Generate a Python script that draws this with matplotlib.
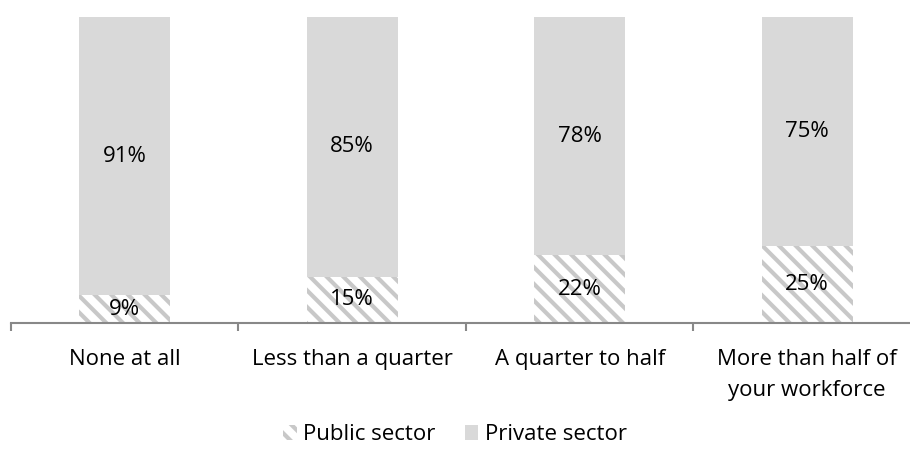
import numpy as np
import matplotlib.pyplot as plt
import matplotlib.patches as mpatches

plt.rcParams['font.family'] = ['Open Sans', 'DejaVu Sans']
plt.rcParams['hatch.linewidth'] = 3.0

categories = ['None at all', 'Less than a quarter', 'A quarter to half',
              'More than half of\nyour workforce']
public = [9, 15, 22, 25]
private = [91, 85, 78, 75]

hatch_col = '#c8c8c8'
fs = 16

fig = plt.figure(figsize=(9.1, 4.54), dpi=100)
ax = fig.add_axes([0.012, 0.289, 1.0, 0.674])

x = np.arange(len(categories))
w = 0.4
ax.bar(x, public, w, color='white', edgecolor=hatch_col, linewidth=0, hatch='\\\\',
       label='Public sector')
ax.bar(x, private, w, bottom=public, color='#d9d9d9', edgecolor='none', label='Private sector')

for i in range(len(categories)):
    ax.text(x[i], public[i] / 2, f'{public[i]}%', ha='center', va='center', fontsize=fs)
    ax.text(x[i], public[i] + private[i] / 2, f'{private[i]}%', ha='center', va='center', fontsize=fs)

ax.set_xlim(-0.5, 3.5)
ax.set_ylim(0, 100)
for s in ['top', 'right', 'left']:
    ax.spines[s].set_visible(False)
ax.spines['bottom'].set_color('#888888')
ax.spines['bottom'].set_linewidth(1.5)
ax.set_yticks([])
ax.set_xticks(np.arange(-0.5, 4, 1), minor=True)
ax.set_xticks(x)
ax.set_xticklabels(categories, fontsize=fs, linespacing=1.6)
ax.tick_params(axis='x', which='major', length=0, pad=19)
ax.tick_params(axis='x', which='minor', length=6, color='#888888', width=1.5)

handles = [mpatches.Patch(facecolor='white', hatch='\\\\', edgecolor=hatch_col, linewidth=0,
                          label='Public sector'),
           mpatches.Patch(facecolor='#d9d9d9', edgecolor='none', label='Private sector')]
fig.legend(handles=handles, loc='lower center', bbox_to_anchor=(0.5, -0.025), ncol=2,
           frameon=False, fontsize=fs, handlelength=0.6, handleheight=0.6,
           handletextpad=0.3, columnspacing=1.3)

fig.savefig('out.png', dpi=100)
